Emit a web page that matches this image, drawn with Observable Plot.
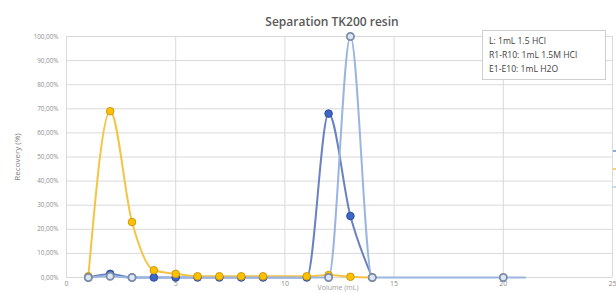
<!DOCTYPE html>
<html>
<head>
<meta charset="utf-8">
<script src="https://cdn.jsdelivr.net/npm/d3@7"></script>
<script src="https://cdn.jsdelivr.net/npm/@observablehq/plot@0.6"></script>
<style>
  html, body { margin: 0; padding: 0; background: #fff; overflow: hidden; }
  #wrap { position: relative; width: 616px; height: 293px; font-family: "Open Sans", "Liberation Sans", sans-serif; }
  #title { position: absolute; left: 0; width: 664px; top: 13px; text-align: center; font-size: 12px; font-weight: 600; color: #595959; }
  #note { position: absolute; left: 482px; top: 30px; width: 124px; height: 50px; border: 1px solid #cfcfcf; background: #fff; font-size: 8.6px; line-height: 14px; color: #404040; padding: 3px 0 0 6px; box-sizing: border-box; }
  #xlab { position: absolute; left: 0; width: 676px; top: 283px; text-align: center; font-size: 7px; line-height: 9px; color: #a0a0a0; }
  .leg { position: absolute; left: 613px; width: 4px; height: 2px; opacity: 0.6; }
</style>
</head>
<body>
<div id="wrap">
  <div id="chart"></div>
  <div id="title">Separation TK200 resin</div>
  <div id="note"></div>
  <div id="xlab">Volume (mL)</div>
</div>
<script>
// ---- data ----
const xTicks = [0, 5, 10, 15, 20, 25];
const yTicks = [0, 10, 20, 30, 40, 50, 60, 70, 80, 90, 100];
const noteLines = ["L: 1mL 1.5 HCl", "R1-R10: 1mL 1.5M HCl", "E1-E10: 1mL H2O"];

const darkX = [1, 2, 3, 4, 5, 6, 7, 8, 9, 11, 12, 13, 14];
const darkY = [0, 1.5, 0, 0, 0, 0, 0, 0, 0, 0, 68, 25.5, 0];

const yellowX = [1, 2, 3, 4, 5, 6, 7, 8, 9, 11, 12, 13, 14];
const yellowY = [0.5, 69, 23, 3, 1.5, 0.5, 0.5, 0.5, 0.5, 0.5, 1, 0.3, 0];

const lightX = [1, 2, 3, 4, 5, 6, 7, 8, 9, 11, 12, 13, 14, 20, 21];
const lightY = [0, 0.5, 0, 0, 0, 0, 0, 0, 0, 0, 0, 100, 0, 0, 0];
const lightMarked = [true, true, true, false, false, false, false, false, false, false, true, true, true, true, false];

const legendColors = ["#4a6fc4", "#f2b800", "#9dc3e6"];

// ---- build ----
const toRows = (xs, ys) => xs.map((x, i) => ({x, y: ys[i], i}));
const dark = toRows(darkX, darkY);
const yellow = toRows(yellowX, yellowY);
const light = toRows(lightX, lightY);
const lightDots = light.filter(d => lightMarked[d.i]);

const fmt = d => d.toFixed(2).replace(".", ",") + "%";

const chart = Plot.plot({
  width: 616,
  height: 293,
  marginLeft: 66,
  marginRight: 4,
  marginTop: 36,
  marginBottom: 16,
  style: {fontFamily: "Open Sans, Liberation Sans, sans-serif", background: "transparent"},
  x: {domain: [0, 25]},
  y: {domain: [0, 100]},
  marks: [
    Plot.gridX(xTicks, {stroke: "#d9d9d9", strokeOpacity: 1}),
    Plot.gridY(yTicks, {stroke: "#d9d9d9", strokeOpacity: 1}),
    Plot.axisY(yTicks, {tickSize: 0, tickPadding: 8, fontSize: 6.3, fill: "#8c8c8c", tickFormat: fmt,
      label: "Recovery (%)", labelAnchor: "center", labelArrow: "none", labelOffset: 52}),
    Plot.axisX(xTicks, {tickSize: 0, tickPadding: 4, fontSize: 7, fill: "#8c8c8c", label: null}),
    Plot.line(dark, {x: "x", y: "y", stroke: "#6a82c2", strokeWidth: 2, curve: "monotone-x"}),
    Plot.line(yellow, {x: "x", y: "y", stroke: "#f5c445", strokeWidth: 2, curve: "monotone-x"}),
    Plot.line(light, {x: "x", y: "y", stroke: "#9bb5e0", strokeWidth: 2, curve: "monotone-x"}),
    Plot.dot(dark, {x: "x", y: "y", r: 3.8, fill: "#3e66c6", stroke: "#2c4c98", strokeWidth: 1}),
    Plot.dot(yellow, {x: "x", y: "y", r: 3.8, fill: "#ffc000", stroke: "#c99a10", strokeWidth: 1}),
    Plot.dot(lightDots, {x: "x", y: "y", r: 3.6, fill: "#dde6f3", stroke: "#7b8ca8", strokeWidth: 1.8})
  ]
});
chart.querySelectorAll("text").forEach(t => {
  if (t.textContent === "Recovery (%)") { t.setAttribute("font-size", "8"); t.setAttribute("fill", "#7f7f7f"); }
});
document.getElementById("chart").appendChild(chart);

document.getElementById("note").innerHTML = noteLines.map(s => `<div>${s}</div>`).join("");

const wrap = document.getElementById("wrap");
legendColors.forEach((c, i) => {
  const s = document.createElement("div");
  s.className = "leg";
  s.style.top = (150 + i * 18) + "px";
  s.style.background = c;
  wrap.appendChild(s);
});
</script>
</body>
</html>
